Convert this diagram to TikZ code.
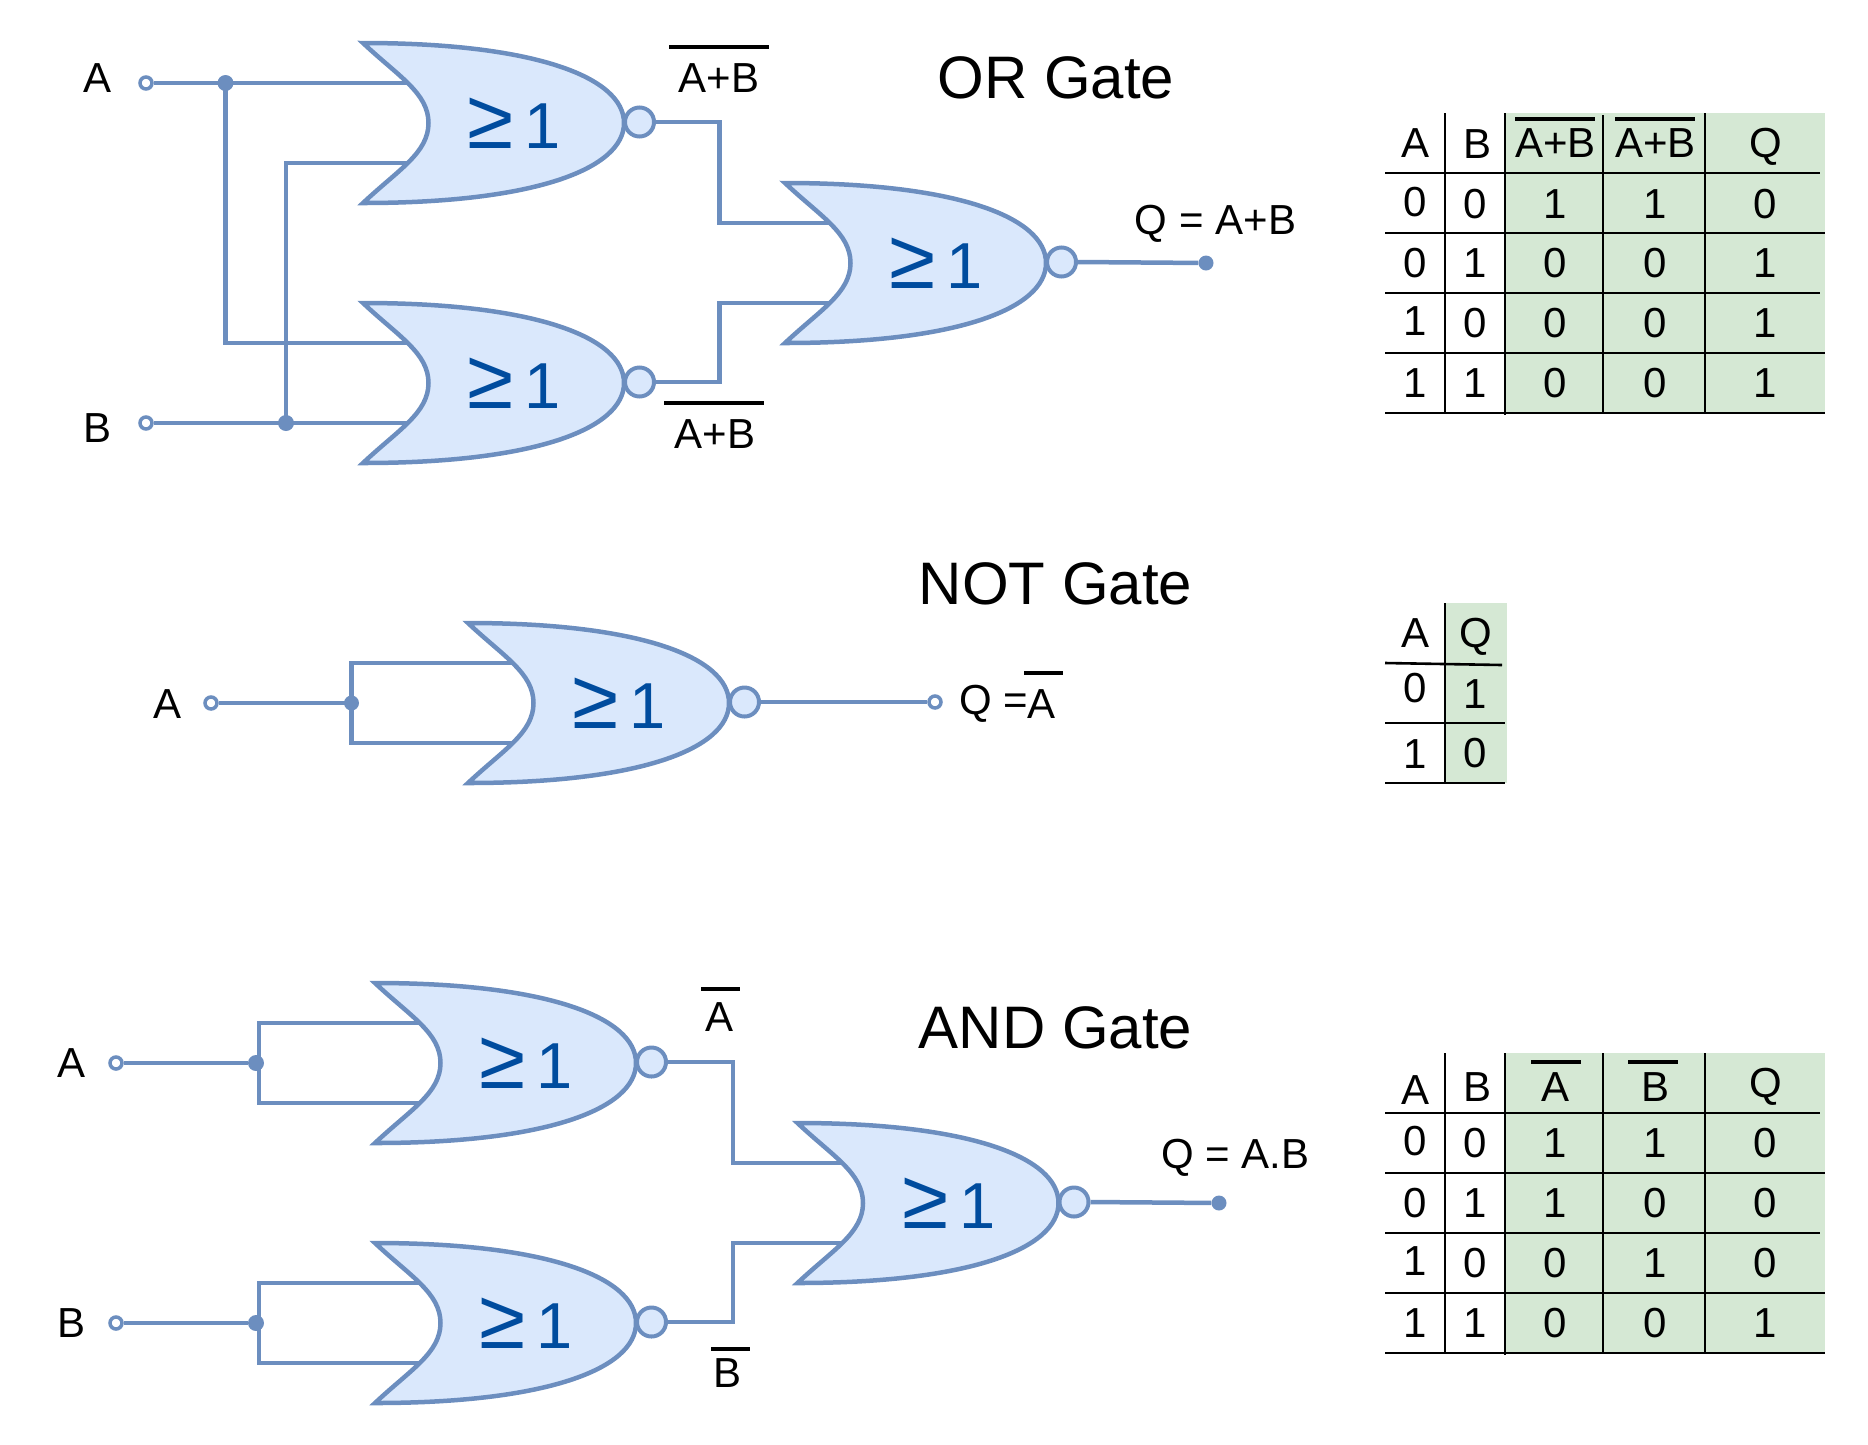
\documentclass[tikz,border=0pt]{standalone}
\usepackage{fontspec}
\setmainfont{Liberation Sans}
\definecolor{gateline}{HTML}{6C8EBF}
\definecolor{gatefill}{HTML}{DAE8FC}
\definecolor{gatetext}{HTML}{004C9E}
\definecolor{tablegreen}{HTML}{D5E8D4}
\tikzset{
 x=1pt,y=-1pt,
 wire/.style={draw=gateline,line width=4.5pt,line join=miter},
 gatebody/.style={draw=gateline,fill=gatefill,line width=4.5pt,line join=miter,miter limit=10},
 bubble/.style={circle,draw=gateline,fill=gatefill,line width=4pt,minimum size=29pt,inner sep=0pt},
 gatelabel/.style={inner sep=0pt,text=gatetext,font=\fontsize{65}{65}\selectfont},
 terminal/.style={circle,draw=gateline,fill=white,line width=3.5pt,minimum size=12pt,inner sep=0pt},
 joint/.style={circle,fill=gateline,minimum size=16pt,inner sep=0pt},
 lbl/.style={inner sep=0pt,font=\fontsize{42}{42}\selectfont},
 title/.style={inner sep=0pt,font=\fontsize{60}{60}\selectfont},
 cell/.style={inner sep=0pt,font=\fontsize{42}{42}\selectfont},
 bar/.style={draw=black,line width=4pt},
 rule/.style={draw=black,line width=2.6pt},
 nor/.pic={
  \path[gatebody] (3,1) .. controls (174,1) and (264,35) .. (264,81)
    .. controls (264,127) and (174,161) .. (3,161)
    .. controls (38,128) and (68.5,111) .. (68.5,81)
    .. controls (68.5,51) and (38,34) .. (3,1) -- cycle;
  \node[bubble] (-bub) at (279.5,80) {};
  \node[gatelabel] (-lab) at (157,81) {\makebox[52pt]{\fontsize{84}{84}\selectfont ≥}\makebox[52pt]{1}};
  \coordinate (-in1) at (48,41);
  \coordinate (-in2) at (48,121);
 }
}
\begin{document}
\begin{tikzpicture}
\useasboundingbox (0,0) rectangle (1868,1444);
% ---------- OR gate
\coordinate (orA) at (225.5,83);
\coordinate (orB) at (286,423);
\coordinate (orX) at (719.5,0);
\pic (g1) at (360,42) {nor};
\pic (g2) at (360,302) {nor};
\pic (g3) at (782,182) {nor};
\node[terminal] (tA) at (146,83) {};
\node[terminal] (tB) at (146,423) {};
\draw[wire] (tA) -- (g1-in1);
\draw[wire] (tB) -- (g2-in2);
\draw[wire] (orA) |- (g2-in1);
\draw[wire] (orB) |- (g1-in2);
\draw[wire] (g1-bub.east) -- (g1-bub.east -| orX) |- (g3-in1);
\draw[wire] (g2-bub.east) -- (g2-bub.east -| orX) |- (g3-in2);
\node[joint] (jA) at (orA) {};
\node[joint] (jB) at (orB) {};
\node[joint,minimum size=15pt] (oOR) at (1206,263) {};
\draw[wire] (g3-bub.east) -- (oOR);
\node[lbl] (lA) at (98,78) {A};
\node[lbl] (lB) at (98,428) {B};
\node[lbl] (n1) at (719,78) {A+B};
\draw[bar] (669,46.5) -- (769,46.5);
\node[lbl] (n2) at (715,434) {A+B};
\draw[bar] (664,403) -- (764,403);
\node[lbl] (qOR) at (1215.5,223.5) {Q = A+B};
\node[title] (tOR) at (1056,78) {OR Gate};
% ---------- NOT gate
\pic (g4) at (465,622) {nor};
\coordinate (notX) at (351.5,703);
\node[terminal] (tN) at (211,703) {};
\node[terminal] (oN) at (935,702) {};
\draw[wire] (tN) -- (notX);
\draw[wire] (g4-in1) -| (notX) |- (g4-in2);
\node[joint,minimum size=15pt] (jN) at (notX) {};
\draw[wire] (g4-bub.east) -- (oN);
\node[lbl] (lN) at (168,704) {A};
\node[lbl,anchor=west] (qN) at (959,704) {Q =};
\node[lbl] (qNA) at (1041,704) {A};
\draw[bar] (1024,673) -- (1063,673);
\node[title] (tNOT) at (1055.5,584) {NOT Gate};
% ---------- AND gate
\pic (g5) at (372,982) {nor};
\pic (g6) at (372,1242) {nor};
\pic (g7) at (794.5,1122) {nor};
\coordinate (andA) at (259,1063);
\coordinate (andB) at (259,1323);
\coordinate (andX) at (733,0);
\node[terminal] (tC) at (116,1063) {};
\node[terminal] (tD) at (116,1323) {};
\draw[wire] (g5-in1) -| (andA) |- (g5-in2);
\draw[wire] (g6-in1) -| (andB) |- (g6-in2);
\node[joint] (jC) at (256,1063) {};
\node[joint] (jD) at (256,1323) {};
\draw[wire] (tC) -- (jC);
\draw[wire] (tD) -- (jD);
\draw[wire] (g5-bub.east) -- (g5-bub.east -| andX) |- (g7-in1);
\draw[wire] (g6-bub.east) -- (g6-bub.east -| andX) |- (g7-in2);
\node[joint,minimum size=15pt] (oAND) at (1219,1203) {};
\draw[wire] (g7-bub.east) -- (oAND);
\node[lbl] (lC) at (72,1063.5) {A};
\node[lbl] (lD) at (72,1323.5) {B};
\node[lbl] (n5) at (719.5,1017) {A};
\draw[bar] (701,989) -- (740,989);
\node[lbl] (n6) at (727,1373.5) {B};
\draw[bar] (711,1349) -- (750,1349);
\node[lbl] (qAND) at (1235.5,1157.5) {Q = A.B};
\node[title] (tAND) at (1055.5,1028) {AND Gate};
% ---------- Table 1
\fill[tablegreen] (1505,113) rectangle (1825,413);
\foreach \y/\e in {173/1820,233/1825,293/1820,353/1825,413/1825} \draw[rule] (1385,\y) -- (\e,\y);
\draw[rule] (1445,113) -- (1445,413);
\draw[rule] (1505,113) -- (1505,415);
\draw[rule] (1603,115) -- (1603,413);
\draw[rule] (1705,113) -- (1705,413);
\node[cell] (a0) at (1415,143) {A};
\node[cell] (a1) at (1477,144) {B};
\node[cell] (a2) at (1555.5,143) {A+B};
\node[cell] (a3) at (1655.5,143) {A+B};
\node[cell] (a4) at (1766,146.5) {Q};
\draw[bar] (1515,119) -- (1595,119);
\draw[bar] (1615,119) -- (1695,119);
\foreach \r/\y/\ya/\v in {1/204/202/{0,0,1,1,0},2/263.5/263.5/{0,1,0,0,1},3/323.5/321/{1,0,0,0,1},4/383.5/383.5/{1,1,0,0,1}}{
 \foreach \c/\x [count=\i] in {a/1415,b/1475.5,c/1555,d/1655,e/1765.5}{
  \pgfmathsetmacro{\val}{{\v}[\i-1]}
  \pgfmathtruncatemacro{\vi}{\val}
  \ifnum\i=1 \def\yy{\ya}\else\def\yy{\y}\fi
  \node[cell] (a\r\c) at (\x,\yy) {\vi};
 }
}
% ---------- Table 2
\fill[tablegreen] (1445,603) rectangle (1507,783);
\draw[rule] (1385,663) -- (1502,665);
\foreach \y in {723,783} \draw[rule] (1385,\y) -- (1505,\y);
\draw[rule] (1445,603) -- (1445,783);
\node[cell] (b0) at (1415,633) {A};
\node[cell] (b1) at (1475.5,636.5) {Q};
\node[cell] (b2) at (1415,688) {0};
\node[cell] (b3) at (1475.5,694) {1};
\node[cell] (b4) at (1415,754) {1};
\node[cell] (b5) at (1475,753.5) {0};
% ---------- Table 3
\fill[tablegreen] (1505,1053) rectangle (1825,1353);
\foreach \y/\e in {1113/1820,1173/1825,1233/1820,1293/1825,1353/1825} \draw[rule] (1385,\y) -- (\e,\y);
\draw[rule] (1445,1053) -- (1445,1353);
\draw[rule] (1505,1053) -- (1505,1355);
\draw[rule] (1603,1053) -- (1603,1353);
\draw[rule] (1705,1053) -- (1705,1353);
\node[cell] (c0) at (1415,1090) {A};
\node[cell] (c1) at (1477,1087) {B};
\node[cell] (c2) at (1555,1087) {A};
\node[cell] (c3) at (1655,1087) {B};
\node[cell] (c4) at (1766,1086.5) {Q};
\draw[bar] (1531,1062) -- (1581,1062);
\draw[bar] (1628,1062) -- (1678,1062);
\foreach \r/\y/\ya/\v in {1/1143/1141/{0,0,1,1,0},2/1203.5/1203.5/{0,1,1,0,0},3/1263.5/1261/{1,0,0,1,0},4/1323.5/1323.5/{1,1,0,0,1}}{
 \foreach \c/\x [count=\i] in {a/1415,b/1475.5,c/1555,d/1655,e/1765.5}{
  \pgfmathsetmacro{\val}{{\v}[\i-1]}
  \pgfmathtruncatemacro{\vi}{\val}
  \ifnum\i=1 \def\yy{\ya}\else\def\yy{\y}\fi
  \node[cell] (c\r\c) at (\x,\yy) {\vi};
 }
}
\end{tikzpicture}
\end{document}
